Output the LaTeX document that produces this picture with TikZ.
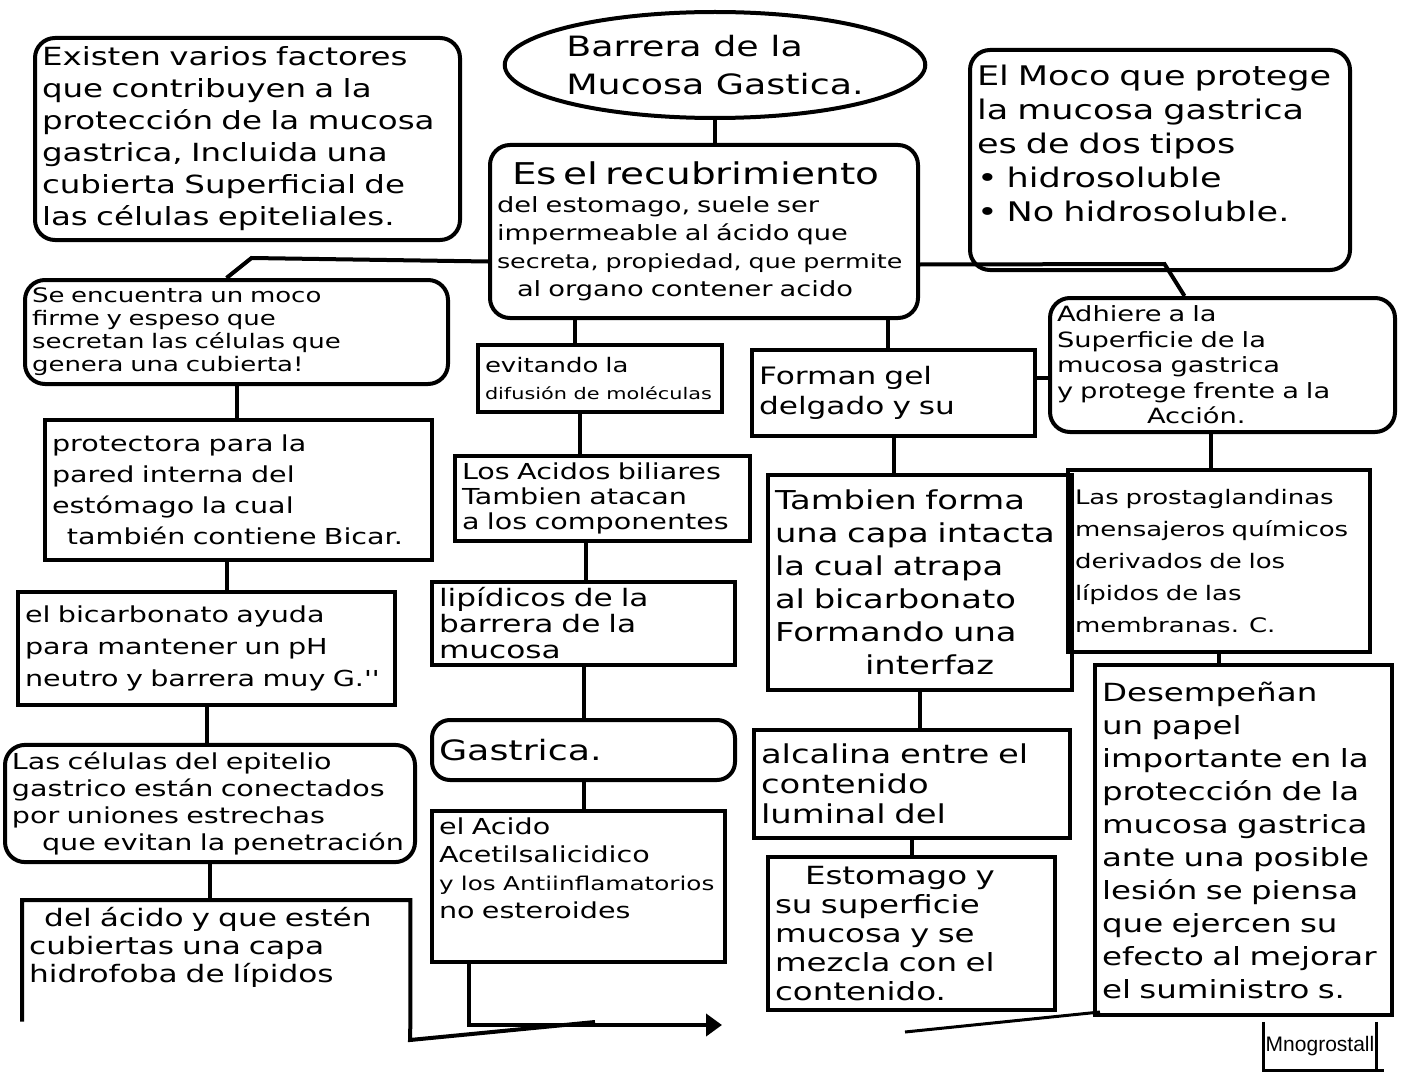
\documentclass[tikz,border=0pt]{standalone}
\usepackage{fontspec}
\newfontfamily\hand[FakeStretch=1.3]{DejaVu Sans}
\newfontfamily\signfont{Liberation Sans}
\usetikzlibrary{shapes.geometric,arrows.meta}
\newcommand\fsz[2]{\fontsize{#1}{#2}\selectfont}
\begin{document}
\begin{tikzpicture}[x=1pt,y=-1pt,
  card/.style={draw, line width=4pt, rounded corners=20pt, inner sep=7pt, align=left},
  sq/.style={draw, line width=4pt, inner sep=7pt, align=left},
  link/.style={line width=4pt}]
\useasboundingbox (0,0) rectangle (1402,1078);

% nodes
\node[card, text width=411pt, minimum height=202pt, font=\hand\fsz{25}{32}] (A) at (247.5,139)
 {Existen varios factores\\ que contribuyen a la\\ protección de la mucosa\\ gastrica, Incluida una\\ cubierta Superficial de\\ las células epiteliales.};
\node[ellipse, draw, line width=4pt, minimum width=410pt, minimum height=106pt, inner sep=0pt, align=left, font=\hand\fsz{28}{38}] (title) at (715,65)
 {Barrera de la\\ Mucosa Gastica.};
\node[card, text width=366pt, minimum height=220pt, font=\hand\fsz{27}{34}] (B) at (1160,160)
 {El Moco que protege\\ la mucosa gastrica\\ es de dos tipos\\ • hidrosoluble\\ • No hidrosoluble.\\ \mbox{}};
\node[card, text width=414pt, minimum height=173pt, font=\hand\fsz{21}{28}] (C) at (704,231.5)
 {\hspace*{15pt}{\fsz{30}{36}Es el recubrimiento}\\ del estomago, suele ser\\ impermeable al ácido que\\ {\fsz{19.5}{28}secreta, propiedad, que permite}\\ \hspace*{20pt}al organo contener acido};
\node[card, text width=409pt, minimum height=104pt, inner ysep=4pt, font=\hand\fsz{20}{23}] (D) at (236.5,332)
 {Se encuentra un moco\\ firme y espeso que\\ secretan las células que\\ genera una cubierta!};
\node[card, text width=331pt, minimum height=134pt, inner ysep=3pt, font=\hand\fsz{21}{25.5}] (E) at (1222.5,365)
 {Adhiere a la\\ Superficie de la\\ mucosa gastrica\\ y protege frente a la\\ \hspace*{90pt}Acción.};
\node[sq, text width=230pt, minimum height=67pt, inner ysep=3pt, font=\hand\fsz{20}{27}] (F) at (600,378.5)
 {evitando la\\ {\fsz{16}{27}difusión de moléculas}};
\node[sq, text width=269pt, minimum height=86pt, font=\hand\fsz{24}{30}] (G) at (893.5,393)
 {Forman gel\\ delgado y su};
\node[sq, text width=373pt, minimum height=140pt, font=\hand\fsz{22}{31}] (H) at (238.5,490)
 {protectora para la\\ pared interna del\\ estómago la cual\\ \hspace*{15pt}también contiene Bicar.};
\node[sq, text width=281pt, minimum height=83pt, font=\hand\fsz{22}{25}] (I) at (602.5,498.5)
 {Los Acidos biliares\\ Tambien atacan\\ a los componentes};
\node[sq, text width=290pt, minimum height=215pt, font=\hand\fsz{26}{33}] (J) at (920,582.5)
 {Tambien forma\\ una capa intacta\\ la cual atrapa\\ al bicarbonato\\ Formando una\\ \hspace*{90pt}interfaz};
\node[sq, text width=288pt, minimum height=182pt, font=\hand\fsz{20}{32}] (K) at (1219,561)
 {Las prostaglandinas\\ mensajeros químicos\\ derivados de los\\ lípidos de las\\ membranas. C.};
\node[sq, text width=363pt, minimum height=113pt, font=\hand\fsz{22}{32}] (L) at (206.5,648.5)
 {el bicarbonato ayuda\\ para mantener un pH\\ neutro y barrera muy G.''};
\node[sq, text width=289pt, minimum height=83pt, inner ysep=3pt, font=\hand\fsz{24}{26}] (M) at (583.5,623.5)
 {lipídicos de la\\ barrera de la\\ mucosa};
\node[sq, text width=283pt, minimum height=350pt, font=\hand\fsz{25}{33}] (N) at (1243.5,840)
 {Desempeñan\\ un papel\\ importante en la\\ protección de la\\ mucosa gastrica\\ ante una posible\\ lesión se piensa\\ que ejercen su\\ efecto al mejorar\\ el suministro s.};
\node[card, text width=289pt, minimum height=60pt, rounded corners=18pt, font=\hand\fsz{28}{30}] (O) at (583.5,750)
 {Gastrica.};
\node[sq, text width=302pt, minimum height=108pt, font=\hand\fsz{26}{30}] (P) at (912,784)
 {alcalina entre el\\ contenido\\ luminal del};
\node[card, text width=396pt, minimum height=117pt, font=\hand\fsz{22}{27}] (Q) at (210,803.5)
 {Las células del epitelio\\ gastrico están conectados\\ por uniones estrechas\\ \hspace*{30pt}que evitan la penetración};
\node[sq, text width=279pt, minimum height=143pt, font=\hand\fsz{22}{28}] (R) at (578.5,886.5)
 {el Acido\\ Acetilsalicidico\\ {\fsz{19}{28}y los Antiinflamatorios}\\ no esteroides\\[8pt] \mbox{}};
\node[sq, text width=273pt, minimum height=153pt, font=\hand\fsz{25}{29}] (S) at (911.5,933.5)
 {\hspace*{30pt}Estomago y\\ su superficie\\ mucosa y se\\ mezcla con el\\ contenido.};
\node[inner sep=7pt, text width=374pt, align=left, minimum height=115pt, anchor=north west, font=\hand\fsz{24}{28}] (T) at (22,900)
 {\hspace*{15pt}del ácido y que estén\\ cubiertas una capa\\ hidrofoba de lípidos\\[4pt] \mbox{}};
\node[minimum width=112pt, minimum height=48pt, inner sep=0pt, font=\signfont\fsz{21}{24}] (sig) at (1320,1046) {Mnogrostall};

% free ends
\coordinate (tb1) at (410,1040);
\coordinate (tb2) at (595,1022);
\coordinate (aend) at (722,1025);
\coordinate (sb1) at (905,1032);
\coordinate (sb2) at (1100,1012);

% connectors
\draw[link] (title.south) -- (title.south |- C.north);
\draw[link] ([yshift=-30pt]C.west) -- ([xshift=15pt,yshift=20pt]D.north) -- ([xshift=-10pt]D.north);
\draw[link] ([yshift=-33pt]C.east) -- ([xshift=-58pt,yshift=32pt]E.north) -- ([xshift=-38pt]E.north);
\draw[link] ([xshift=-129pt]C.south) -- ([xshift=-129pt]C.south |- F.north);
\draw[link] ([xshift=184pt]C.south) -- ([xshift=184pt]C.south |- G.north);
\draw[link] ([yshift=15pt]G.east) -- ([yshift=15pt]G.east -| E.west);
\draw[link] (D.south) -- (D.south |- H.north);
\draw[link] ([xshift=-12pt]H.south) -- ([xshift=-12pt]H.south |- L.north);
\draw[link] (L.south) -- (L.south |- Q.north);
\draw[link] (Q.south) -- (Q.south |- T.north);
\draw[link] ([xshift=-20pt]F.south) -- ([xshift=-20pt]F.south |- I.north);
\draw[link] ([xshift=-17pt]I.south) -- ([xshift=-17pt]I.south |- M.north);
\draw[link] (M.south) -- (M.south |- O.north);
\draw[link] (O.south) -- (O.south |- R.north);
\draw[link] (G.south) -- (G.south |- J.north);
\draw[link] (J.south) -- (J.south |- P.north);
\draw[link] (P.south) -- (P.south |- S.north);
\draw[link] ([xshift=-12pt]E.south) -- ([xshift=-12pt]E.south |- K.north);
\draw[link] (K.south) -- (K.south |- N.north);

% open box T and bottom lines
\draw[link] (T.south west) -- (T.north west) -- (T.north east) -- (T.south east) -- (tb1) -- (tb2);
\draw[link, -{Triangle[length=16pt,width=22pt]}] ([xshift=-110pt]R.south) |- (aend);
\draw[link, line width=3pt] (sb1) -- (sb2);
\draw[line width=3pt] (sig.north west) -- (sig.south west) -- ([xshift=8pt]sig.south east);
\draw[line width=3pt] (sig.north east) -- (sig.south east);
\end{tikzpicture}
\end{document}
